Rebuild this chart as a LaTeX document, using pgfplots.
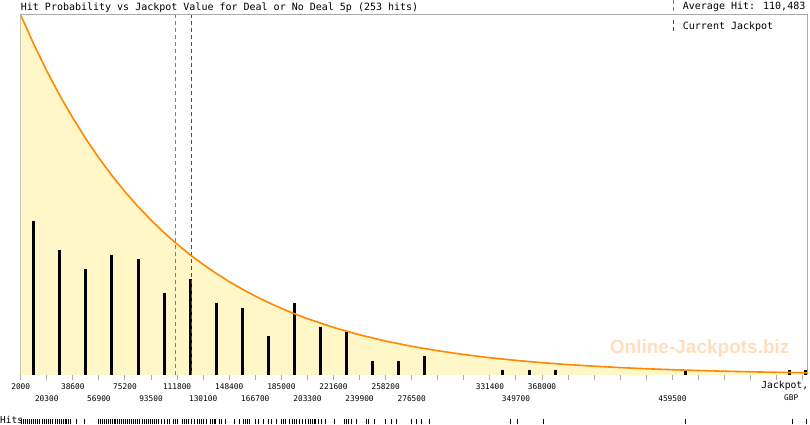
\documentclass[border=0pt]{standalone}
\usepackage{pgfplots}
\pgfplotsset{compat=1.18}
\usepackage{fontspec}
\setmainfont{DejaVu Sans Mono}
\newfontfamily\wmfont{Liberation Sans}
\definecolor{fillyellow}{RGB}{255,247,200}
\definecolor{curveorange}{RGB}{255,136,0}
\definecolor{avgblue}{RGB}{60,145,200}
\definecolor{curred}{RGB}{190,30,30}
\definecolor{framegray}{RGB}{170,170,170}
\definecolor{wmcolor}{RGB}{255,222,190}
\newcommand{\up}[1]{\raisebox{-8.8pt}[0pt][0pt]{#1}}
\newcommand{\dn}[1]{\raisebox{-20.6pt}[0pt][0pt]{#1}}
\begin{document}
\begin{tikzpicture}[x=1pt,y=1pt]
\useasboundingbox (0,0) rectangle (810,425);
\begin{axis}[
  at={(20.7pt,50pt)}, anchor=south west,
  scale only axis, width=786.3pt, height=360pt,
  xmin=2000, xmax=554000, ymin=0, ymax=74.7,
  axis line style={framegray, line width=1pt},
  ytick=\empty,
  scaled x ticks=false,
  xtick={2000,20300,38600,56900,75200,93500,111800,130100,148400,166700,185000,203300,221600,239900,258200,276500,294800,313100,331400,349700,368000,386300,404600,422900,441200,459500,477800,496100,514400,532700,551000},
  xticklabels={\up{2000},\dn{20300},\up{38600},\dn{56900},\up{75200},\dn{93500},\up{111800},\dn{130100},\up{148400},\dn{166700},\up{185000},\dn{203300},\up{221600},\dn{239900},\up{258200},\dn{276500},{},{},\up{331400},\dn{349700},\up{368000},{},{},{},{},\dn{459500},{},{},{},{},{}},
  tick align=outside, major tick length=5pt,
  tick style={framegray, line width=1pt},
  xtick pos=bottom,
  xticklabel style={inner sep=0pt, anchor=north, font=\fontsize{7.8}{9}\selectfont},
]
% area under fitted curve
\addplot[draw=none, fill=fillyellow] coordinates {
(2000,74.7) (11150,68.66) (20300,63.10) (29450,58.00) (38600,53.31) (47750,49.00) (56900,45.03) (66050,41.39) (75200,38.04) (84350,34.96) (93500,32.14) (102650,29.54) (111800,27.15) (120950,24.95) (130100,22.93) (139250,21.08) (148400,19.37) (157550,17.81) (166700,16.37) (175850,15.04) (185000,13.83) (194150,12.71) (203300,11.68) (221600,9.87) (239900,8.34) (258200,7.04) (276500,5.95) (294800,5.03) (313100,4.25) (331400,3.59) (349700,3.03) (368000,2.56) (386300,2.16) (404600,1.83) (422900,1.54) (441200,1.30) (459500,1.10) (477800,0.93) (496100,0.79) (514400,0.66) (532700,0.56) (551000,0.47) (554000,0.46)
} \closedcycle;
\node[font={\wmfont\bfseries\fontsize{19}{20}\selectfont}, text=wmcolor] at (rel axis cs:0.8635,0.0722) {Online-Jackpots.biz};
% hits per bin
\addplot[ycomb, black, line width=3pt, mark=none] coordinates {
(11150,32) (29450,26) (47750,22) (66050,25) (84350,24) (102650,17) (120950,20) (139250,15) (157550,14) (175850,8) (194150,15) (212450,10) (230750,9) (249050,3) (267350,3) (285650,4) (340550,1) (358850,1) (377150,1) (468650,1) (541850,1) (553000,1)
};
% average hit and current jackpot
\addplot[avgblue, line width=1pt, dash pattern=on 4pt off 3pt] coordinates {(110483,0) (110483,74.7)};
\addplot[curred, line width=1pt, dash pattern=on 4pt off 3pt] coordinates {(121700,0) (121700,74.7)};
% curve
\addplot[curveorange, line width=1.6pt, mark=none] coordinates {
(2000,74.7) (11150,68.66) (20300,63.10) (29450,58.00) (38600,53.31) (47750,49.00) (56900,45.03) (66050,41.39) (75200,38.04) (84350,34.96) (93500,32.14) (102650,29.54) (111800,27.15) (120950,24.95) (130100,22.93) (139250,21.08) (148400,19.37) (157550,17.81) (166700,16.37) (175850,15.04) (185000,13.83) (194150,12.71) (203300,11.68) (221600,9.87) (239900,8.34) (258200,7.04) (276500,5.95) (294800,5.03) (313100,4.25) (331400,3.59) (349700,3.03) (368000,2.56) (386300,2.16) (404600,1.83) (422900,1.54) (441200,1.30) (459500,1.10) (477800,0.93) (496100,0.79) (514400,0.66) (532700,0.56) (551000,0.47) (554000,0.46)
};
\end{axis}
% rug of individual hits
\begin{axis}[
  at={(20.7pt,0.5pt)}, anchor=south west,
  scale only axis, width=786.3pt, height=6pt,
  xmin=2000, xmax=554000, ymin=0, ymax=1, hide axis]
\addplot[ycomb, black, line width=1pt, mark=none] coordinates {
(2900,1) (4300,1) (5700,1) (7100,1) (8500,1) (9900,1) (11300,1) (12700,1) (14100,1) (15500,1) (17000,1) (18400,1) (19800,1) (21200,1) (22600,1) (24000,1)
(26100,1) (27500,1) (28900,1) (30300,1) (31700,1) (33100,1) (34500,1) (35900,1) (37300,1) (41500,1) (47100,1)
(56300,1) (57700,1) (59100,1) (60500,1) (61900,1) (63300,1) (64700,1) (66100,1) (67500,1) (68900,1) (70300,1) (71700,1) (73100,1) (74500,1) (75900,1) (77300,1) (78700,1) (80100,1) (81500,1) (82900,1) (84300,1) (85700,1) (87200,1) (88600,1) (90000,1) (91400,1) (92800,1) (94200,1) (95600,1) (97000,1) (98400,1)
(100500,1) (102800,1) (105200,1) (106800,1) (109100,1) (110800,1) (112200,1) (115900,1) (117300,1) (118700,1) (120100,1) (121600,1) (123900,1) (125800,1) (127200,1) (128600,1) (130000,1) (132600,1) (134900,1) (136300,1) (137700,1) (139100,1) (141400,1) (143100,1) (145900,1) (152400,1) (155900,1) (158100,1) (159500,1) (160900,1) (162300,1) (166500,1) (168800,1) (172300,1) (175800,1) (178200,1) (181700,1)
(185400,1) (186800,1) (188200,1) (191000,1) (192500,1) (193900,1) (195300,1) (197400,1) (199700,1) (201600,1) (203700,1) (205100,1) (206700,1) (207900,1) (209300,1) (211400,1) (213300,1) (216100,1) (222600,1) (229200,1) (230400,1) (232000,1) (234400,1) (237900,1) (244900,1) (246500,1) (250700,1) (258200,1) (262400,1) (266000,1) (276500,1) (280000,1) (283500,1) (289300,1) (345500,1) (350600,1) (368900,1) (468800,1) (543700,1) (553700,1)
};
\end{axis}
% title
\node[anchor=base west, inner sep=0pt, font=\fontsize{10}{12}\selectfont] at (20.7,414.3) {Hit Probability vs Jackpot Value for Deal or No Deal 5p (253 hits)};
% legend
\draw[avgblue, line width=1pt, dash pattern=on 4pt off 3pt] (673.3,425) -- (673.3,414);
\node[anchor=base west, inner sep=0pt, font=\fontsize{10}{12}\selectfont] at (682.7,415) {Average Hit: 110,483};
\draw[curred, line width=1pt, dash pattern=on 4pt off 3pt] (673.3,405) -- (673.3,393);
\node[anchor=base west, inner sep=0pt, font=\fontsize{10}{12}\selectfont] at (682.7,395.7) {Current Jackpot};
% axis label
\node[anchor=base east, inner sep=0pt, font=\fontsize{9.7}{11}\selectfont] at (808.3,36) {Jackpot,};
\node[anchor=base west, inner sep=0pt, font=\fontsize{7.8}{9}\selectfont] at (784,24.3) {GBP};
% rug label
\node[anchor=base west, inner sep=0pt, font=\fontsize{9.5}{11}\selectfont] at (0,1.7) {Hits};
\end{tikzpicture}
\end{document}
